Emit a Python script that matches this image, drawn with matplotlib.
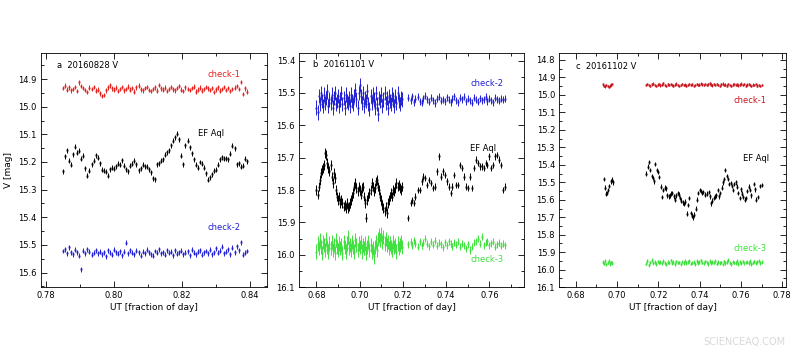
import matplotlib
matplotlib.use('Agg')
import matplotlib.pyplot as plt
from matplotlib.ticker import MultipleLocator, FormatStrFormatter

plt.rcParams['font.family'] = ['DejaVu Sans']

#####################################################################################
# panel a : 20160828 V
a_t = [0.7850, 0.7856, 0.7862, 0.7868, 0.7874, 0.7880, 0.7886, 0.7892, 0.7898, 0.7904,
       0.7910, 0.7916, 0.7922, 0.7928, 0.7934, 0.7940, 0.7946, 0.7952, 0.7958, 0.7964,
       0.7970, 0.7976, 0.7982, 0.7988, 0.7994, 0.8000, 0.8006, 0.8012, 0.8018, 0.8024,
       0.8030, 0.8036, 0.8042, 0.8048, 0.8054, 0.8060, 0.8066, 0.8072, 0.8078, 0.8084,
       0.8090, 0.8096, 0.8102, 0.8108, 0.8114, 0.8120, 0.8126, 0.8132, 0.8138, 0.8144,
       0.8150, 0.8156, 0.8162, 0.8168, 0.8174, 0.8180, 0.8186, 0.8192, 0.8198, 0.8204,
       0.8210, 0.8216, 0.8222, 0.8228, 0.8234, 0.8240, 0.8246, 0.8252, 0.8258, 0.8264,
       0.8270, 0.8276, 0.8282, 0.8288, 0.8294, 0.8300, 0.8306, 0.8312, 0.8318, 0.8324,
       0.8330, 0.8336, 0.8342, 0.8348, 0.8354, 0.8360, 0.8366, 0.8372, 0.8378, 0.8384,
       0.8390]
a_ef = [15.234, 15.180, 15.158, 15.195, 15.210, 15.172, 15.145, 15.166, 15.160, 15.188,
        15.178, 15.222, 15.250, 15.232, 15.208, 15.196, 15.176, 15.184, 15.205, 15.228,
        15.232, 15.236, 15.250, 15.226, 15.220, 15.224, 15.216, 15.206, 15.210, 15.194,
        15.214, 15.226, 15.234, 15.214, 15.206, 15.196, 15.208, 15.230, 15.222, 15.210,
        15.216, 15.218, 15.226, 15.238, 15.258, 15.262, 15.208, 15.204, 15.196, 15.190,
        15.174, 15.164, 15.158, 15.140, 15.124, 15.110, 15.098, 15.118, 15.178, 15.208,
        15.140, 15.124, 15.146, 15.168, 15.190, 15.210, 15.220, 15.200, 15.206, 15.220,
        15.240, 15.264, 15.256, 15.244, 15.232, 15.228, 15.210, 15.190, 15.182, 15.188,
        15.186, 15.190, 15.170, 15.142, 15.150, 15.208, 15.204, 15.218, 15.214, 15.188,
        15.198]
a_chk1 = [14.932, 14.924, 14.938, 14.930, 14.941, 14.935, 14.928, 14.944, 14.912, 14.925,
          14.933, 14.940, 14.947, 14.931, 14.936, 14.929, 14.942, 14.938, 14.952, 14.962,
          14.957, 14.941, 14.930, 14.923, 14.934, 14.938, 14.931, 14.944, 14.936, 14.929,
          14.941, 14.935, 14.927, 14.938, 14.932, 14.945, 14.930, 14.924, 14.937, 14.941,
          14.933, 14.928, 14.939, 14.944, 14.936, 14.930, 14.942, 14.921, 14.934, 14.938,
          14.931, 14.943, 14.935, 14.929, 14.937, 14.941, 14.932, 14.926, 14.938, 14.944,
          14.930, 14.935, 14.940, 14.933, 14.927, 14.945, 14.938, 14.931, 14.942, 14.936,
          14.929, 14.934, 14.940, 14.932, 14.947, 14.937, 14.930, 14.942, 14.935, 14.928,
          14.939, 14.933, 14.944, 14.936, 14.931, 14.926, 14.935, 14.910, 14.953, 14.934,
          14.945]
a_chk2 = [15.522, 15.515, 15.530, 15.509, 15.527, 15.534, 15.518, 15.526, 15.540, 15.588,
          15.521, 15.531, 15.515, 15.524, 15.536, 15.528, 15.519, 15.530, 15.525, 15.533,
          15.527, 15.541, 15.520, 15.529, 15.535, 15.517, 15.526, 15.532, 15.523, 15.538,
          15.525, 15.492, 15.531, 15.519, 15.528, 15.534, 15.521, 15.527, 15.539, 15.524,
          15.530, 15.518, 15.526, 15.533, 15.540, 15.522, 15.529, 15.516, 15.531, 15.527,
          15.535, 15.520, 15.528, 15.524, 15.537, 15.519, 15.532, 15.526, 15.521, 15.534,
          15.528, 15.523, 15.538, 15.517, 15.529, 15.533, 15.525, 15.520, 15.536, 15.527,
          15.522, 15.531, 15.518, 15.534, 15.526, 15.512, 15.529, 15.521, 15.507, 15.530,
          15.524, 15.516, 15.533, 15.510, 15.527, 15.505, 15.520, 15.490, 15.535, 15.528,
          15.522]

#####################################################################################
# panel b : 20161101 V
b_t = [0.6800, 0.6805, 0.6810, 0.6815, 0.6820, 0.6825, 0.6830, 0.6835, 0.6840, 0.6845,
       0.6850, 0.6855, 0.6860, 0.6865, 0.6870, 0.6875, 0.6880, 0.6885, 0.6890, 0.6895,
       0.6900, 0.6905, 0.6910, 0.6915, 0.6920, 0.6925, 0.6930, 0.6935, 0.6940, 0.6945,
       0.6950, 0.6955, 0.6960, 0.6965, 0.6970, 0.6975, 0.6980, 0.6985, 0.6990, 0.6995,
       0.7000, 0.7005, 0.7010, 0.7015, 0.7020, 0.7025, 0.7030, 0.7035, 0.7040, 0.7045,
       0.7050, 0.7055, 0.7060, 0.7065, 0.7070, 0.7075, 0.7080, 0.7085, 0.7090, 0.7095,
       0.7100, 0.7105, 0.7110, 0.7115, 0.7120, 0.7125, 0.7130, 0.7135, 0.7140, 0.7145,
       0.7150, 0.7155, 0.7160, 0.7165, 0.7170, 0.7175, 0.7180, 0.7185, 0.7190, 0.7195,
       0.7225, 0.7235, 0.7243, 0.7250, 0.7258, 0.7268, 0.7277, 0.7286, 0.7295, 0.7304,
       0.7313, 0.7322, 0.7331, 0.7340, 0.7349, 0.7358, 0.7366, 0.7375, 0.7384, 0.7393,
       0.7402, 0.7411, 0.7420, 0.7429, 0.7438, 0.7447, 0.7456, 0.7465, 0.7474, 0.7483,
       0.7492, 0.7501, 0.7510, 0.7519, 0.7528, 0.7537, 0.7546, 0.7555, 0.7564, 0.7573,
       0.7582, 0.7591, 0.7600, 0.7609, 0.7618, 0.7627, 0.7636, 0.7645, 0.7654, 0.7663,
       0.7672]
b_ef = [15.799, 15.814, 15.789, 15.768, 15.747, 15.737, 15.732, 15.722, 15.686, 15.691,
        15.717, 15.732, 15.742, 15.722, 15.758, 15.778, 15.747, 15.763, 15.799, 15.820,
        15.830, 15.820, 15.840, 15.830, 15.840, 15.851, 15.845, 15.856, 15.840, 15.856,
        15.851, 15.840, 15.830, 15.820, 15.809, 15.789, 15.778, 15.794, 15.804, 15.789,
        15.799, 15.814, 15.794, 15.789, 15.820, 15.840, 15.885, 15.830, 15.820, 15.809,
        15.799, 15.778, 15.789, 15.804, 15.794, 15.773, 15.768, 15.789, 15.799, 15.820,
        15.830, 15.845, 15.856, 15.866, 15.851, 15.871, 15.840, 15.830, 15.820, 15.809,
        15.820, 15.799, 15.804, 15.794, 15.778, 15.789, 15.784, 15.794, 15.799, 15.789,
        15.887, 15.840, 15.830, 15.840, 15.820, 15.799, 15.799, 15.773, 15.758, 15.763,
        15.784, 15.768, 15.778, 15.794, 15.789, 15.742, 15.696, 15.758, 15.742, 15.753,
        15.773, 15.789, 15.809, 15.789, 15.753, 15.784, 15.784, 15.722, 15.732, 15.758,
        15.789, 15.794, 15.758, 15.794, 15.732, 15.706, 15.717, 15.727, 15.727, 15.732,
        15.717, 15.722, 15.696, 15.732, 15.722, 15.696, 15.691, 15.706, 15.722, 15.799,
        15.789]
b_chk2 = [15.545, 15.560, 15.510, 15.535, 15.500, 15.525, 15.540, 15.505, 15.530, 15.515,
          15.495, 15.540, 15.520, 15.530, 15.505, 15.545, 15.515, 15.500, 15.535, 15.525,
          15.510, 15.540, 15.520, 15.500, 15.535, 15.515, 15.545, 15.505, 15.525, 15.530,
          15.515, 15.540, 15.505, 15.525, 15.535, 15.510, 15.490, 15.520, 15.545, 15.500,
          15.475, 15.510, 15.530, 15.500, 15.540, 15.515, 15.525, 15.495, 15.535, 15.550,
          15.510, 15.530, 15.505, 15.520, 15.545, 15.500, 15.535, 15.565, 15.515, 15.525,
          15.505, 15.540, 15.520, 15.500, 15.530, 15.515, 15.545, 15.510, 15.525, 15.535,
          15.505, 15.520, 15.540, 15.510, 15.530, 15.500, 15.525, 15.535, 15.515, 15.520,
          15.515, 15.522, 15.510, 15.528, 15.518, 15.512, 15.525, 15.530, 15.516, 15.508,
          15.520, 15.527, 15.514, 15.522, 15.531, 15.518, 15.511, 15.524, 15.519, 15.526,
          15.513, 15.521, 15.529, 15.517, 15.510, 15.523, 15.528, 15.515, 15.520, 15.512,
          15.525, 15.518, 15.522, 15.530, 15.514, 15.521, 15.527, 15.516, 15.523, 15.519,
          15.512, 15.525, 15.518, 15.522, 15.528, 15.515, 15.520, 15.524, 15.517, 15.521,
          15.518]
b_chk3 = [15.990, 15.965, 15.980, 15.955, 15.975, 15.995, 15.960, 15.970, 15.985, 15.950,
          15.975, 15.990, 15.965, 15.980, 15.960, 15.985, 15.970, 15.995, 15.955, 15.975,
          15.985, 15.965, 15.980, 15.970, 15.995, 15.960, 15.975, 15.990, 15.965, 15.945,
          15.980, 15.970, 15.985, 15.960, 15.975, 15.990, 15.955, 15.970, 15.985, 15.965,
          15.975, 15.960, 15.990, 15.970, 15.980, 15.965, 15.995, 15.975, 15.960, 15.985,
          15.970, 15.990, 15.980, 16.005, 15.975, 15.960, 15.985, 15.950, 15.940, 15.955,
          15.935, 15.960, 15.945, 15.965, 15.950, 15.970, 15.960, 15.980, 15.965, 15.975,
          15.985, 15.960, 15.975, 15.970, 15.990, 15.965, 15.980, 15.970, 15.960, 15.975,
          15.968, 15.960, 15.972, 15.955, 15.965, 15.975, 15.958, 15.970, 15.962, 15.950,
          15.966, 15.974, 15.960, 15.969, 15.957, 15.972, 15.963, 15.968, 15.976, 15.961,
          15.970, 15.958, 15.966, 15.973, 15.962, 15.969, 15.960, 15.975, 15.965, 15.971,
          15.980, 15.968, 15.985, 15.975, 15.962, 15.958, 15.950, 15.966, 15.944, 15.970,
          15.962, 15.958, 15.970, 15.964, 15.960, 15.975, 15.968, 15.962, 15.972, 15.966,
          15.970]
# first part of the night was noisier than the second one
b_err_chk = [0.022] * 80 + [0.011] * 51
b_err_ef = [0.015] * 80 + [0.010] * 51

#####################################################################################
# panel c : 20161102 V
c_t_chk = [0.6930, 0.6936, 0.6942, 0.6948, 0.6954, 0.6960, 0.6966, 0.6972, 0.6978,
           0.7140, 0.7147, 0.7154, 0.7161, 0.7168, 0.7175, 0.7182, 0.7189, 0.7196, 0.7203,
           0.7210, 0.7217, 0.7224, 0.7231, 0.7238, 0.7245, 0.7252, 0.7259, 0.7266, 0.7273,
           0.7280, 0.7287, 0.7294, 0.7301, 0.7308, 0.7315, 0.7322, 0.7329, 0.7336, 0.7343,
           0.7350, 0.7357, 0.7364, 0.7371, 0.7378, 0.7385, 0.7392, 0.7399, 0.7406, 0.7413,
           0.7420, 0.7427, 0.7434, 0.7441, 0.7448, 0.7455, 0.7462, 0.7469, 0.7476, 0.7483,
           0.7490, 0.7497, 0.7504, 0.7511, 0.7518, 0.7525, 0.7532, 0.7539, 0.7546, 0.7553,
           0.7560, 0.7567, 0.7574, 0.7581, 0.7588, 0.7595, 0.7602, 0.7609, 0.7616, 0.7623,
           0.7630, 0.7637, 0.7644, 0.7651, 0.7658, 0.7665, 0.7672, 0.7679, 0.7686, 0.7693,
           0.7700]
c_chk1 = [14.940, 14.948, 14.952, 14.945, 14.950, 14.955, 14.947, 14.942, 14.938,
          14.945, 14.938, 14.943, 14.948, 14.940, 14.936, 14.944, 14.950, 14.942, 14.937,
          14.946, 14.941, 14.935, 14.943, 14.949, 14.940, 14.945, 14.938, 14.944, 14.947,
          14.941, 14.936, 14.943, 14.950, 14.945, 14.939, 14.944, 14.941, 14.947, 14.943,
          14.938, 14.945, 14.940, 14.948, 14.943, 14.937, 14.944, 14.941, 14.936, 14.940,
          14.943, 14.938, 14.945, 14.940, 14.935, 14.942, 14.946, 14.939, 14.944, 14.937,
          14.943, 14.948, 14.940, 14.936, 14.944, 14.941, 14.947, 14.939, 14.943, 14.950,
          14.942, 14.937, 14.945, 14.940, 14.946, 14.941, 14.936, 14.944, 14.939, 14.947,
          14.942, 14.938, 14.945, 14.950, 14.941, 14.944, 14.939, 14.947, 14.943, 14.948,
          14.945]
c_chk3 = [15.955, 15.965, 15.950, 15.970, 15.960, 15.948, 15.966, 15.958, 15.962,
          15.965, 15.950, 15.972, 15.958, 15.945, 15.962, 15.955, 15.968, 15.952, 15.960,
          15.957, 15.964, 15.949, 15.961, 15.970, 15.955, 15.959, 15.947, 15.963, 15.956,
          15.966, 15.952, 15.960, 15.958, 15.969, 15.954, 15.961, 15.948, 15.963, 15.957,
          15.951, 15.965, 15.959, 15.955, 15.968, 15.950, 15.962, 15.957, 15.946, 15.960,
          15.964, 15.953, 15.958, 15.967, 15.951, 15.962, 15.956, 15.960, 15.949, 15.965,
          15.955, 15.961, 15.958, 15.970, 15.952, 15.963, 15.957, 15.945, 15.960, 15.966,
          15.954, 15.959, 15.962, 15.950, 15.967, 15.956, 15.961, 15.953, 15.964, 15.958,
          15.955, 15.962, 15.950, 15.966, 15.959, 15.952, 15.963, 15.957, 15.948, 15.961,
          15.955]
c_t_ef = [0.6935, 0.6941, 0.6946, 0.6951, 0.6957, 0.6963, 0.6969, 0.6975, 0.6981,
          0.7142, 0.7150, 0.7155, 0.7161, 0.7167, 0.7173, 0.7180, 0.7186, 0.7192, 0.7198,
          0.7204, 0.7211, 0.7217, 0.7223, 0.7230, 0.7236, 0.7243, 0.7250, 0.7256, 0.7262,
          0.7268, 0.7275, 0.7281, 0.7287, 0.7293, 0.7300, 0.7306, 0.7312, 0.7318, 0.7325,
          0.7331, 0.7337, 0.7343, 0.7349, 0.7356, 0.7362, 0.7368, 0.7374, 0.7381, 0.7387,
          0.7393, 0.7400, 0.7406, 0.7412, 0.7418, 0.7425, 0.7437, 0.7443, 0.7450, 0.7456,
          0.7462, 0.7468, 0.7475, 0.7481, 0.7487, 0.7493, 0.7500, 0.7506, 0.7512, 0.7518,
          0.7525, 0.7531, 0.7537, 0.7543, 0.7550, 0.7556, 0.7562, 0.7568, 0.7575, 0.7581,
          0.7587, 0.7593, 0.7600, 0.7606, 0.7612, 0.7618, 0.7625, 0.7631, 0.7637, 0.7643,
          0.7650, 0.7662, 0.7668, 0.7675, 0.7681, 0.7693, 0.7700]
c_ef = [15.480, 15.530, 15.565, 15.560, 15.545, 15.520, 15.495, 15.485, 15.500,
        15.450, 15.410, 15.385, 15.430, 15.465, 15.475, 15.495, 15.395, 15.430, 15.440,
        15.470, 15.525, 15.585, 15.545, 15.530, 15.535, 15.575, 15.580, 15.575, 15.565,
        15.560, 15.580, 15.600, 15.575, 15.560, 15.570, 15.590, 15.605, 15.615, 15.625,
        15.610, 15.680, 15.630, 15.590, 15.675, 15.690, 15.700, 15.685, 15.650, 15.600,
        15.560, 15.545, 15.550, 15.560, 15.555, 15.570, 15.565, 15.555, 15.580, 15.620,
        15.605, 15.590, 15.580, 15.575, 15.545, 15.580, 15.560, 15.530, 15.500, 15.480,
        15.430, 15.465, 15.480, 15.510, 15.505, 15.520, 15.545, 15.510, 15.500, 15.525,
        15.560, 15.590, 15.540, 15.565, 15.585, 15.600, 15.590, 15.550, 15.525, 15.545,
        15.575, 15.510, 15.540, 15.600, 15.585, 15.520, 15.515]

#####################################################################################
RED = '#e3231f'
DRED = '#c8161d'
BLUE = '#2020d4'
GREEN = '#3ee03e'
FS = 6


def rysuj(ax, t, m, err, kolor):
    '''punkty z bledami w stylu pgplot'''
    ax.errorbar(t, m, yerr=err, fmt='s', ms=1.4, mew=0, color=kolor, ecolor=kolor,
                elinewidth=0.7, capsize=1.0, capthick=0.6)


def osie(ax, xlim, ylim):
    ax.set_xlim(*xlim)
    ax.set_ylim(*ylim)
    ax.xaxis.set_major_locator(MultipleLocator(0.02))
    ax.xaxis.set_minor_locator(MultipleLocator(0.01))
    ax.yaxis.set_major_locator(MultipleLocator(0.1))
    ax.yaxis.set_minor_locator(MultipleLocator(0.05))
    ax.xaxis.set_major_formatter(FormatStrFormatter('%.2f'))
    ax.yaxis.set_major_formatter(FormatStrFormatter('%.1f'))
    ax.tick_params(which='both', direction='in', top=True, right=True, width=0.6,
                   labelsize=FS, pad=3)
    ax.tick_params(which='major', length=4)
    ax.tick_params(which='minor', length=2)
    for s in ax.spines.values():
        s.set_linewidth(0.6)
    ax.set_xlabel('UT [fraction of day]', fontsize=6.5, labelpad=2)


fig = plt.figure(figsize=(8, 3.55), dpi=100)

ax1 = fig.add_axes([0.051, 0.191, 0.283, 0.661])
rysuj(ax1, a_t, a_chk1, 0.008, RED)
rysuj(ax1, a_t, a_ef, 0.009, 'k')
rysuj(ax1, a_t, a_chk2, 0.009, BLUE)
osie(ax1, (0.7785, 0.845), (15.653, 14.804))
ax1.set_ylabel('V [mag]', fontsize=6.5, labelpad=4)
ax1.text(0.072, 0.943, 'a  20160828 V', transform=ax1.transAxes, fontsize=FS, va='center')
ax1.text(0.88, 0.905, 'check-1', transform=ax1.transAxes, fontsize=FS, color=RED, ha='right', va='center')
ax1.text(0.75, 0.653, 'EF Aql', transform=ax1.transAxes, fontsize=FS, ha='center', va='center')
ax1.text(0.88, 0.256, 'check-2', transform=ax1.transAxes, fontsize=FS, color=BLUE, ha='right', va='center')

ax2 = fig.add_axes([0.374, 0.191, 0.281, 0.661])
rysuj(ax2, b_t, b_chk2, b_err_chk, BLUE)
rysuj(ax2, b_t, b_ef, b_err_ef, 'k')
rysuj(ax2, b_t, b_chk3, b_err_chk, GREEN)
osie(ax2, (0.672, 0.776), (16.1, 15.375))
ax2.text(0.06, 0.948, 'b  20161101 V', transform=ax2.transAxes, fontsize=FS, va='center')
ax2.text(0.91, 0.87, 'check-2', transform=ax2.transAxes, fontsize=FS, color=BLUE, ha='right', va='center')
ax2.text(0.82, 0.592, 'EF Aql', transform=ax2.transAxes, fontsize=FS, ha='center', va='center')
ax2.text(0.91, 0.116, 'check-3', transform=ax2.transAxes, fontsize=FS, color=GREEN, ha='right', va='center')

ax3 = fig.add_axes([0.699, 0.191, 0.284, 0.661])
rysuj(ax3, c_t_chk, c_chk1, 0.007, DRED)
rysuj(ax3, c_t_ef, c_ef, 0.013, 'k')
rysuj(ax3, c_t_chk, c_chk3, 0.010, GREEN)
osie(ax3, (0.672, 0.782), (16.1, 14.758))
ax3.text(0.076, 0.94, 'c  20161102 V', transform=ax3.transAxes, fontsize=FS, va='center')
ax3.text(0.912, 0.794, 'check-1', transform=ax3.transAxes, fontsize=FS, color=DRED, ha='right', va='center')
ax3.text(0.865, 0.55, 'EF Aql', transform=ax3.transAxes, fontsize=FS, ha='center', va='center')
ax3.text(0.915, 0.166, 'check-3', transform=ax3.transAxes, fontsize=FS, color=GREEN, ha='right', va='center')

fig.text(0.982, 0.022, 'SCIENCEAQ.COM', fontsize=7, color='#d9d9d9', ha='right', va='bottom')

fig.savefig('out.png', dpi=100)
